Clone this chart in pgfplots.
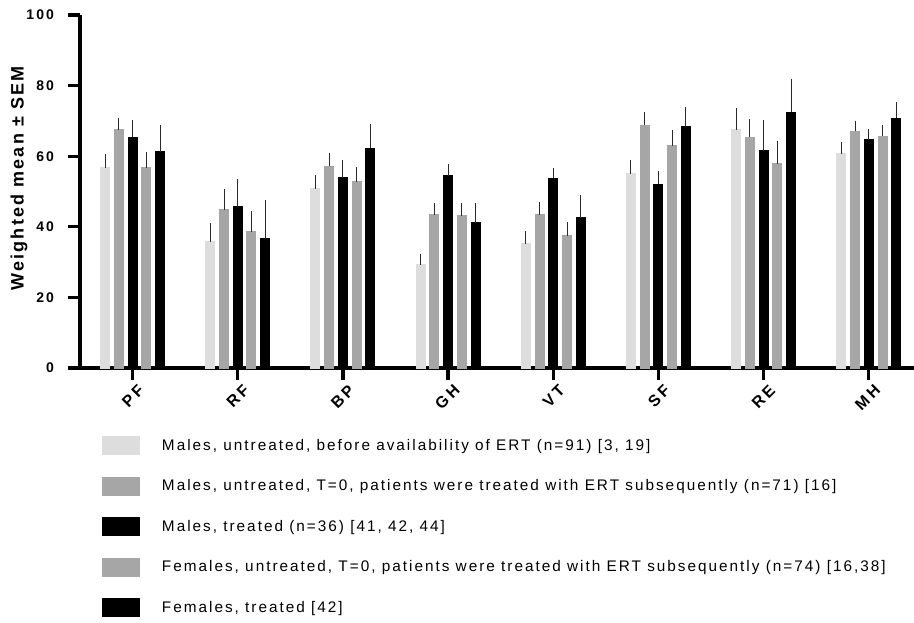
\documentclass[border=0pt]{standalone}
\usepackage{fontspec}
\setmainfont{Liberation Sans}
\usepackage{pgfplots}
\usepackage{pgfplotstable}
\pgfplotsset{compat=1.18}
\definecolor{lightg}{HTML}{DDDDDD}
\definecolor{midg}{HTML}{A6A6A6}
\definecolor{errc}{HTML}{2A2A2A}

\pgfplotstableread{
x  m1   e1   m2   e2   m3   e3   m4   e4   m5   e5
0  56.7 3.1  67.5 2.6  65.3 4.0  56.7 3.5  61.2 6.8
1  35.8 4.3  44.9 5.0  45.7 7.1  38.6 5.0  36.6 10.1
2  50.8 2.9  57.1 2.9  53.9 4.1  52.8 3.2  62.2 6.0
3  29.2 2.3  43.4 2.5  54.5 2.5  43.2 2.7  41.2 4.8
4  35.2 2.7  43.4 2.8  53.7 2.0  37.5 2.9  42.6 5.5
5  55.1 2.9  68.7 2.9  52.0 3.0  63.0 3.5  68.4 4.7
6  67.5 5.3  65.3 4.4  61.6 7.7  57.8 5.6  72.4 8.7
7  60.7 2.5  67.0 2.2  64.7 2.2  65.6 2.4  70.7 3.8
}\data

\pgfplotsset{
  lg/.style={legend image code/.code={%
    \fill[##1,draw=none] (0pt,-7.125pt) rectangle (28.5pt,7.125pt);
    \path[fill=none,draw=none] (0pt,-15.2pt) rectangle (45pt,15.2pt);}},
  eb/.style={error bars/.cd, y dir=plus, y explicit,
    error mark=-,
    error bar style={draw=errc, line width=0.75pt, solid},
    error mark options={draw=errc, line width=0.75pt, mark size=2.25pt}},
}

\begin{document}
\begin{tikzpicture}
\begin{axis}[
  at={(0,0)}, anchor=south west,
  width=625.5pt, height=264.75pt, scale only axis,
  xmin=-0.5, xmax=7.43, ymin=0, ymax=100,
  axis x line=bottom, axis y line=left,
  axis line style={-, line width=2.4pt, black},
  ybar=3.55pt, bar width=6.75pt,
  ytick={0,20,...,100},
  xtick={0,...,7},
  xticklabels={PF,RF,BP,GH,VT,SF,RE,MH},
  minor tick num=0,
  tick align=outside,
  major tick length=9pt,
  tick style={line width=2.4pt, black},
  /pgf/number format/assume math mode=true,
  yticklabel style={font=\bfseries\fontsize{10.5}{12}\selectfont\addfontfeature{LetterSpace=15}, xshift=-7pt},
  xticklabel style={font=\bfseries\fontsize{12}{13}\selectfont\addfontfeature{LetterSpace=18}, rotate=45, anchor=north east, xshift=4pt, yshift=-1pt},
  every axis y label/.style={at={(rel axis cs:0,0.537)}, xshift=-45.75pt, rotate=90, anchor=center},
  ylabel={Weighted mean ± SEM},
  ylabel style={font=\bfseries\fontsize{13.5}{16}\selectfont\addfontfeature{LetterSpace=12}},
  legend style={at={(rel axis cs:0,0)}, anchor=north west, xshift=16.5pt, yshift=-42.9pt,
    draw=none, fill=none, inner sep=0pt, outer sep=0pt,
    row sep=0pt, column sep=0pt,
    nodes={inner sep=0pt},
    font=\fontsize{11.5}{13}\selectfont\addfontfeature{LetterSpace=13}},
  legend cell align=left,
  clip=false,
]
\addplot[fill=lightg, draw=lightg, line width=0pt, lg, eb] table[x=x, y=m1, y error=e1]{\data};
\addplot[fill=midg, draw=midg, line width=0pt, lg, eb] table[x=x, y=m2, y error=e2]{\data};
\addplot[fill=black, draw=black, line width=0pt, lg, eb] table[x=x, y=m3, y error=e3]{\data};
\addplot[fill=midg, draw=midg, line width=0pt, lg, eb] table[x=x, y=m4, y error=e4]{\data};
\addplot[fill=black, draw=black, line width=0pt, lg, eb] table[x=x, y=m5, y error=e5]{\data};
\legend{
  {Males, untreated, before availability of ERT (n=91) [3, 19]},
  {Males, untreated, T=0, patients were treated with ERT subsequently (n=71) [16]},
  {Males, treated (n=36) [41, 42, 44]},
  {Females, untreated, T=0, patients were treated with ERT subsequently (n=74) [16,38]},
  {Females, treated [42]}}
\end{axis}
\pgfresetboundingbox
\path (-60pt,-190.5pt) rectangle (625.5pt,276pt);
\end{tikzpicture}
\end{document}
